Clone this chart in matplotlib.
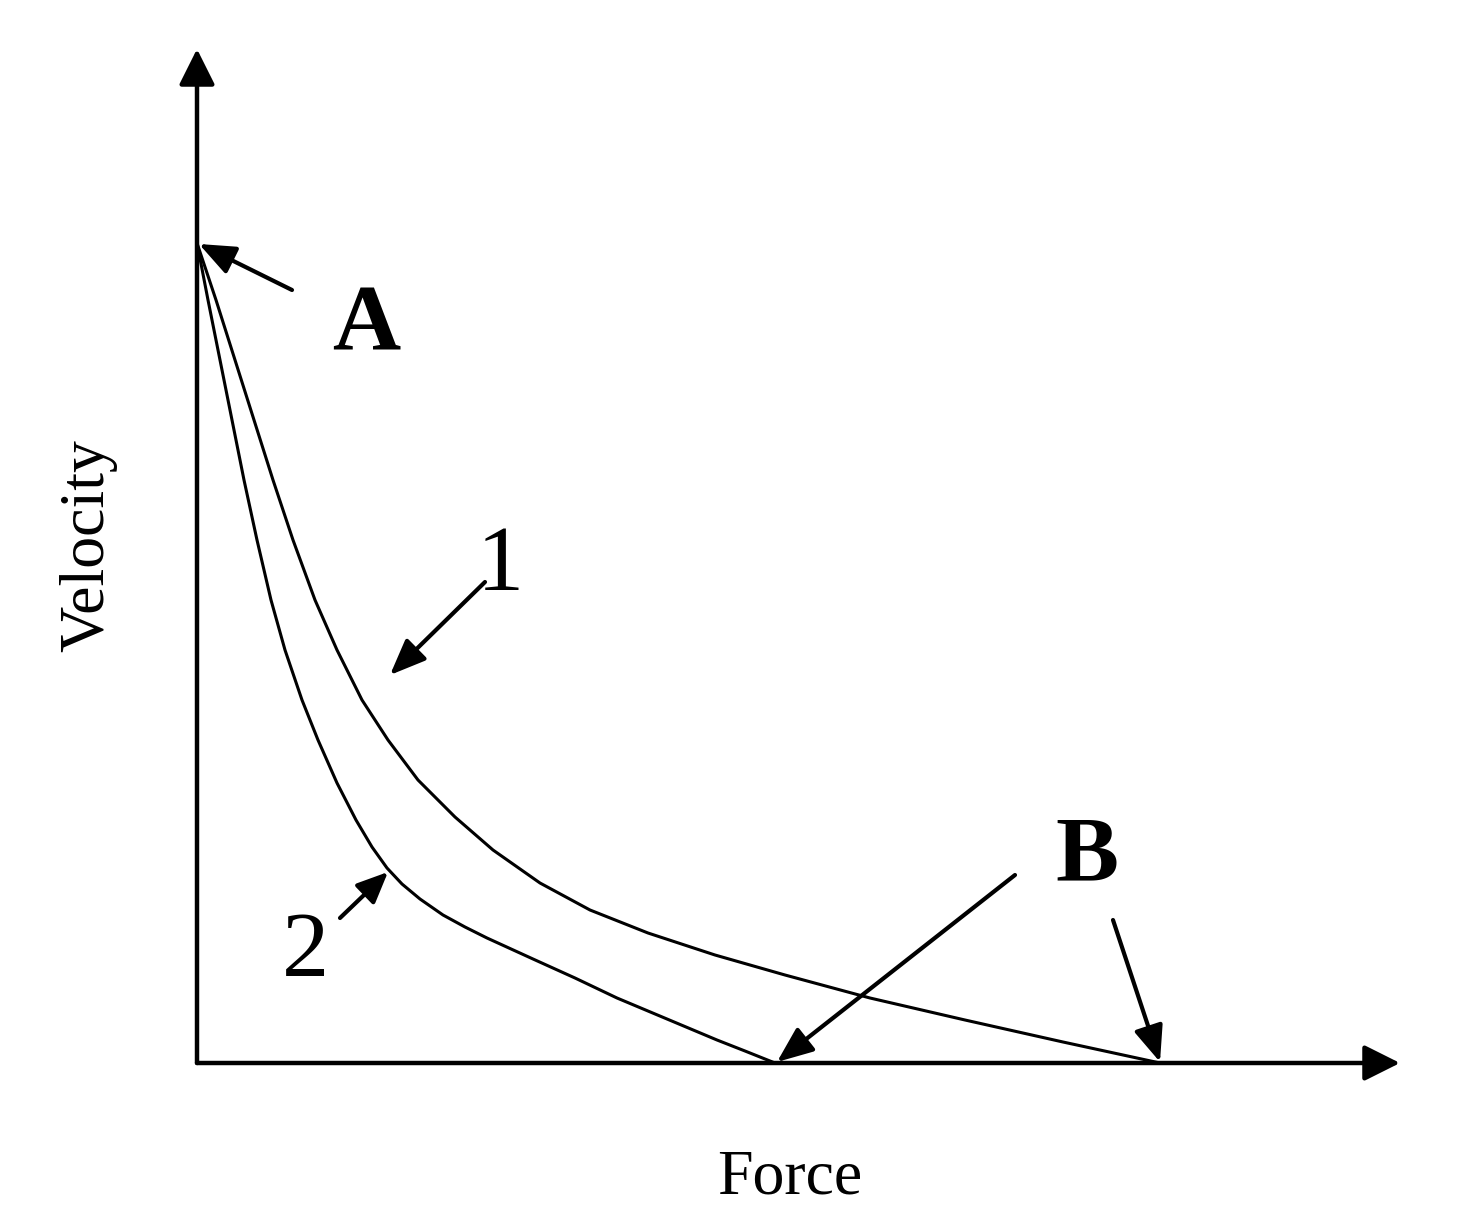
import matplotlib
matplotlib.use("Agg")
import matplotlib.pyplot as plt

# ---- data (Force, Velocity) in schematic units ----
curve1_force = [0.00, 0.19, 0.38, 0.57, 0.76, 0.96, 1.18, 1.40, 1.65, 1.91, 2.21,
                2.58, 2.96, 3.43, 3.93, 4.51, 5.18, 5.88, 6.73, 7.68, 8.66, 9.63]
curve1_vel = [8.20, 7.63, 7.03, 6.43, 5.83, 5.23, 4.63, 4.13, 3.63, 3.23, 2.83,
              2.46, 2.13, 1.80, 1.53, 1.30, 1.08, 0.88, 0.65, 0.43, 0.21, 0.00]

curve2_force = [0.00, 0.11, 0.23, 0.35, 0.47, 0.60, 0.74, 0.88, 1.05, 1.21, 1.40,
                1.59, 1.75, 1.90, 2.05, 2.23, 2.46, 2.68, 2.90, 3.36, 3.78, 4.20,
                4.70, 5.20, 5.48, 5.78]
curve2_vel = [8.20, 7.63, 7.03, 6.43, 5.83, 5.23, 4.63, 4.13, 3.63, 3.23, 2.80,
              2.43, 2.16, 1.95, 1.79, 1.64, 1.48, 1.36, 1.25, 1.04, 0.85, 0.65,
              0.44, 0.23, 0.12, 0.00]

axis_force_max = 12.03
axis_vel_max = 10.14

point_A = (0.0, 8.20)
point_B1 = (5.78, 0.0)
point_B2 = (9.63, 0.0)

label_A = "A"
label_B = "B"
label_1 = "1"
label_2 = "2"
xlabel = "Force"
ylabel = "Velocity"

# ---- figure ----
fig = plt.figure(figsize=(14.68, 12.30), dpi=100)
ax = fig.add_axes([0, 0, 1, 1])
ax.set_xlim(-1.97, 12.71)
ax.set_ylim(-1.67, 10.63)
ax.axis("off")

serif = ["Liberation Serif", "DejaVu Serif"]

def arrow(start, end, lw=3.0, hl=1.1, hw=0.45):
    ax.annotate("", xy=end, xytext=start,
                arrowprops=dict(arrowstyle=f"-|>,head_length={hl},head_width={hw}",
                                mutation_scale=20, lw=lw, color="black",
                                shrinkA=0, shrinkB=0))

# axes with arrows
arrow((0, 0), (0, axis_vel_max), lw=3.2, hl=1.1, hw=0.55)
arrow((0, 0), (axis_force_max, 0), lw=3.2, hl=1.1, hw=0.55)

# curves
ax.plot(curve1_force, curve1_vel, color="black", lw=2.2,
        solid_joinstyle="round", antialiased=True)
ax.plot(curve2_force, curve2_vel, color="black", lw=2.2,
        solid_joinstyle="round", antialiased=True)

# annotation arrows
arrow((0.95, 7.73), (point_A[0] + 0.02, point_A[1] - 0.01))
arrow((2.88, 4.81), (1.93, 3.88))
arrow((1.43, 1.45), (1.91, 1.91), hl=0.95, hw=0.42)
arrow((8.18, 1.88), (point_B1[0] + 0.02, point_B1[1] + 0.01))
arrow((9.16, 1.43), (point_B2[0], point_B2[1] + 0.01))

# labels
ax.text(1.69, 7.36, label_A, fontsize=68, fontweight="bold", family=serif,
        ha="center", va="center")
ax.text(8.90, 2.05, label_B, fontsize=68, fontweight="bold", family=serif,
        ha="center", va="center")
ax.text(3.03, 4.96, label_1, fontsize=68, family=serif, ha="center", va="center")
ax.text(1.09, 1.10, label_2, fontsize=68, family=serif, ha="center", va="center")

ax.text(5.93, -1.30, xlabel, fontsize=46, family=serif, ha="center", va="baseline")
ax.text(-0.94, 5.17, ylabel, fontsize=46, family=serif, ha="center", va="baseline",
        rotation=90, rotation_mode="anchor")

fig.savefig("out.png", dpi=100, facecolor="white")
